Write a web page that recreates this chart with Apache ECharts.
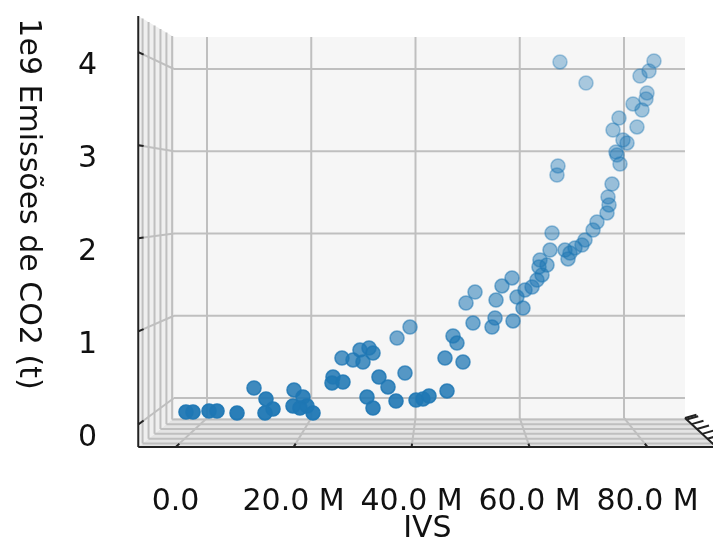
<!DOCTYPE html>
<html>
<head>
<meta charset="utf-8">
<script src="https://cdn.jsdelivr.net/npm/echarts@6/dist/echarts.min.js"></script>
<style>html,body{margin:0;padding:0;background:#fff;}#main{width:713px;height:543px;}</style>
</head>
<body>
<div id="main"></div>
<script>
// IVS (millions)
const ivsM = [1.76,2.95,5.66,7.02,10.41,13.29,15.32,16.51,15.15,20.07,19.90,21.59,22.27,23.29,21.08,
  26.68,28.37,26.51,28.20,30.07,31.25,32.78,33.46,31.76,34.47,36.00,37.36,38.88,37.53,39.73,32.44,33.46,40.75,41.93,42.95,
  46.00,45.66,47.02,47.69,48.71,
  49.22,50.75,50.41,53.63,54.14,54.31,55.32,57.02,57.19,58.88,57.86,59.22,60.41,61.25,62.10,62.95,61.59,61.76,63.46,63.80,
  66.00,66.51,66.85,67.69,68.88,69.39,70.75,71.42,73.12,73.46,73.29,73.97,
  74.81,75.32,74.64,75.83,76.51,74.14,75.15,78.20,77.53,79.05,79.73,79.90,78.71,80.24,81.08,65.15,69.56,64.81,64.64];
// CO2 emissions (1e9 t)
const co2G = [0.134,0.134,0.145,0.145,0.124,0.392,0.274,0.166,0.124,0.371,0.199,0.295,0.199,0.124,0.177,
  0.510,0.456,0.446,0.714,0.693,0.800,0.822,0.768,0.671,0.510,0.403,0.252,0.553,0.929,1.047,0.295,0.177,0.263,0.274,0.306,
  0.360,0.714,0.951,0.875,0.671,
  1.305,1.423,1.090,1.047,1.144,1.337,1.488,1.574,1.112,1.251,1.369,1.445,1.477,1.552,1.606,1.713,1.692,1.767,1.874,2.057,
  1.874,1.778,1.842,1.896,1.928,1.982,2.089,2.175,2.272,2.358,2.444,2.583,
  2.895,2.798,2.927,3.056,3.024,3.163,3.292,3.196,3.443,3.378,3.496,3.561,3.743,3.797,3.905,3.894,3.668,2.777,2.680];
// depth shading (nearer = more opaque)
const shade = [0.95,0.95,0.95,0.95,0.95,0.85,0.93,0.95,0.95,0.85,0.93,0.9,0.93,0.95,0.95,
  0.85,0.88,0.88,0.75,0.75,0.75,0.75,0.78,0.78,0.85,0.85,0.9,0.75,0.6,0.58,0.88,0.9,0.88,0.88,0.88,
  0.85,0.75,0.68,0.7,0.74,
  0.55,0.53,0.62,0.62,0.6,0.57,0.57,0.55,0.62,0.6,0.57,0.55,0.55,0.55,0.53,0.53,0.53,0.51,0.5,0.46,
  0.5,0.5,0.5,0.5,0.48,0.48,0.46,0.46,0.46,0.46,0.44,0.44,
  0.42,0.42,0.42,0.42,0.42,0.4,0.4,0.4,0.4,0.4,0.38,0.38,0.38,0.38,0.38,0.36,0.36,0.42,0.42];
const xTicks = [0, 20, 40, 60, 80];
const zTicks = [0, 1, 2, 3, 4];
const xLim = [-6.33, 91.7];
const zLim = [-0.243, 4.389];
const depthTicks = [0.053, 0.212, 0.379, 0.545, 0.712, 0.879];
const yTitle = '1e9 Emissões de CO2 (t)';
const xTitle = 'IVS';

const FONT = 'DejaVu Sans';
const chart = echarts.init(document.getElementById('main'), null, {renderer: 'canvas'});
const pts = ivsM.map((x, i) => ({value: [x, co2G[i]], itemStyle: {opacity: shade[i]}}));

chart.setOption({
  animation: false,
  backgroundColor: '#ffffff',
  grid: [
    {left: 207, top: 69, width: 417, height: 329},
    {left: 175.6, top: 52.1, width: 472, height: 372.4},
    {left: 105, top: 66, width: 10, height: 372}
  ],
  xAxis: [
    {gridIndex: 0, type: 'value', min: 0, max: 80, show: false},
    {gridIndex: 1, type: 'value', min: 0, max: 80, interval: 20, offset: 22.5,
      axisLine: {show: false}, axisTick: {show: false}, splitLine: {show: false},
      axisLabel: {margin: 40, fontSize: 30, fontFamily: FONT, color: '#111',
        formatter: v => v === 0 ? '0.0' : v.toFixed(1) + ' M'}},
    {gridIndex: 2, type: 'value', show: false}
  ],
  yAxis: [
    {gridIndex: 0, type: 'value', min: 0, max: 4, show: false},
    {gridIndex: 1, type: 'value', min: 0, max: 4, show: false},
    {gridIndex: 2, type: 'value', min: 0, max: 4, interval: 1,
      axisLine: {show: false}, axisTick: {show: false}, splitLine: {show: false},
      axisLabel: {margin: 8, fontSize: 30, fontFamily: FONT, color: '#111'}}
  ],
  series: [{
    type: 'scatter', xAxisIndex: 1, yAxisIndex: 1, clip: false, z: 10,
    symbolSize: 14,
    itemStyle: {color: '#1f77b4', borderColor: '#1f77b4', borderWidth: 1.6},
    data: pts
  }]
});

function P(x, z, s) {
  const b = chart.convertToPixel({gridIndex: 0}, [x, z]);
  const f = chart.convertToPixel({gridIndex: 1}, [x, z]);
  return [b[0] + s * (f[0] - b[0]), b[1] + s * (f[1] - b[1])];
}
const els = [];
function poly(points, fill, z) { els.push({type: 'polygon', z: z, silent: true, shape: {points}, style: {fill, stroke: null}}); }
function seg(a, b, color, w, z) { els.push({type: 'line', z: z, silent: true, shape: {x1: a[0], y1: a[1], x2: b[0], y2: b[1]}, style: {stroke: color, lineWidth: w}}); }
const [X0, X1] = xLim, [Z0, Z1] = zLim;
const GRID = '#bfbfbf';
// panes
poly([P(X0, Z0, 0), P(X1, Z0, 0), P(X1, Z1, 0), P(X0, Z1, 0)], '#f6f6f6', 0);
poly([P(X0, Z0, 0), P(X0, Z1, 0), P(X0, Z1, 1), P(X0, Z0, 1)], '#efefef', 0);
poly([P(X0, Z0, 0), P(X1, Z0, 0), P(X1, Z0, 1), P(X0, Z0, 1)], '#e4e4e4', 0);
// back grid
xTicks.forEach(x => seg(P(x, Z0, 0), P(x, Z1, 0), GRID, 2, 1));
zTicks.forEach(z => seg(P(X0, z, 0), P(X1, z, 0), GRID, 2, 1));
// floor grid
xTicks.forEach(x => seg(P(x, Z0, 0), P(x, Z0, 1), GRID, 2, 1));
depthTicks.forEach(s => seg(P(X0, Z0, s), P(X1, Z0, s), GRID, 2, 1));
// side grid
zTicks.forEach(z => seg(P(X0, z, 0), P(X0, z, 1), GRID, 2, 1));
depthTicks.forEach(s => seg(P(X0, Z0, s), P(X0, Z1, s), GRID, 2, 1));
// axis edges
const DARK = '#222';
seg(P(X0, Z0, 1), P(X0, Z1, 1), DARK, 2, 2);
seg(P(X0, Z0, 1), P(X1, Z0, 1), DARK, 2, 2);
seg(P(X1, Z0, 0), P(X1, Z0, 1), DARK, 2, 2);
xTicks.forEach(x => seg(P(x, Z0, 1), P(x, Z0, 0.88), DARK, 2, 2));
zTicks.forEach(z => seg(P(X0, z, 1), P(X0, z, 0.85), DARK, 2, 2));
depthTicks.concat([0, 1]).forEach(s => seg(P(X1, Z0, s), P(X1 + 2.2, Z0 + 0.04, s), DARK, 2, 2));
// titles
els.push({type: 'text', x: 28, y: 204, rotation: -Math.PI / 2, z: 3,
  style: {text: yTitle, font: '30px "DejaVu Sans"', fill: '#111', align: 'center', verticalAlign: 'middle'}});
const mid = P((X0 + X1) / 2, Z0, 1);
els.push({type: 'text', x: mid[0], y: 529, z: 3,
  style: {text: xTitle, font: '30px "DejaVu Sans"', fill: '#111', align: 'center', verticalAlign: 'middle'}});
chart.setOption({graphic: {elements: els}});
</script>
</body>
</html>
